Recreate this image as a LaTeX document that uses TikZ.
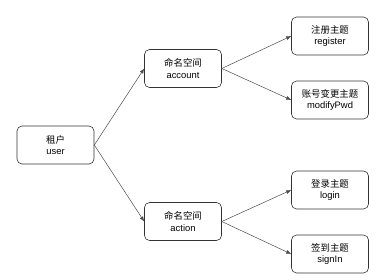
\documentclass[tikz,border=0pt]{standalone}
\usepackage{fontspec}
\setmainfont{Liberation Sans}
\newfontfamily\cjk{Noto Sans CJK SC}
\usetikzlibrary{arrows.meta}
\begin{document}
\begin{tikzpicture}[x=1pt,y=-1pt,
  box/.style={draw=black!80, line width=0.6pt, rounded corners=5pt, minimum width=77pt, minimum height=38pt, align=center, font=\fontsize{9.4}{11.5}\selectfont, inner sep=0pt},
  conn/.style={draw=black!70, line width=0.5pt, -{Latex[length=5pt,width=4pt]}}]
\useasboundingbox (0,0) rectangle (391,280);
\node[box] (user) at (55.5,145) {{\cjk 租户}\\user};
\node[box] (account) at (183,68.5) {{\cjk 命名空间}\\account};
\node[box] (action) at (183,221.5) {{\cjk 命名空间}\\action};
\node[box] (register) at (330,36) {{\cjk 注册主题}\\register};
\node[box] (modify) at (330,100) {{\cjk 账号变更主题}\\modifyPwd};
\node[box] (login) at (330,190) {{\cjk 登录主题}\\login};
\node[box] (signin) at (330,254) {{\cjk 签到主题}\\signIn};
\draw[conn] (user.east) -- (account.west);
\draw[conn] (user.east) -- (action.west);
\draw[conn] (account.east) -- (register.west);
\draw[conn] (account.east) -- (modify.west);
\draw[conn] (action.east) -- (login.west);
\draw[conn] (action.east) -- (signin.west);
\end{tikzpicture}
\end{document}
